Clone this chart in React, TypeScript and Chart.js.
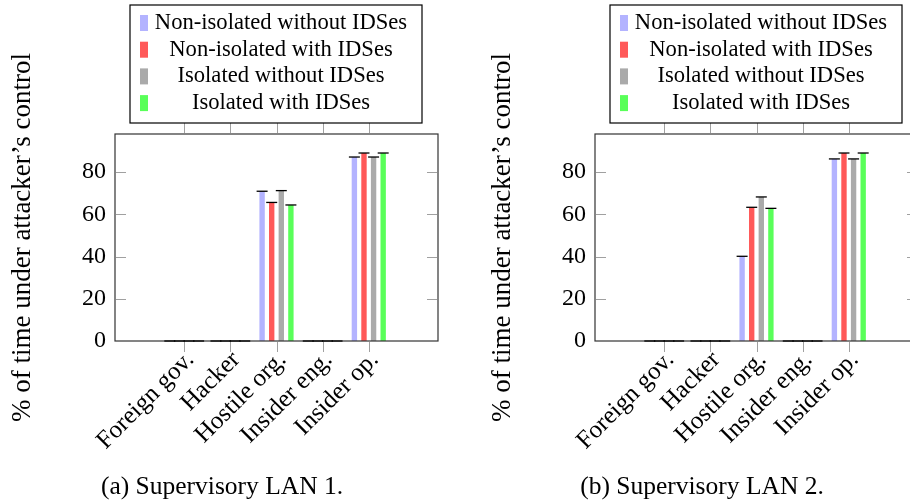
import React, { useEffect, useRef } from "react";
import { Chart, registerables } from "chart.js";

Chart.register(...registerables);

const CATEGORIES = ["Foreign gov.", "Hacker", "Hostile org.", "Insider eng.", "Insider op."];
const SERIES = [
  "Non-isolated without IDSes",
  "Non-isolated with IDSes",
  "Isolated without IDSes",
  "Isolated with IDSes",
];
const COLORS = ["#b3b3ff", "#ff5959", "#aaaaaa", "#59ff59"];
const Y_TICKS = [0, 20, 40, 60, 80];
const Y_TITLE = "% of time under attacker\u2019s control";

// Supervisory LAN 1
const LAN1_NONISO_NOIDS = [0, 0, 70.9, 0, 87.1];
const LAN1_NONISO_IDS = [0, 0, 65.6, 0, 89.0];
const LAN1_ISO_NOIDS = [0, 0, 71.2, 0, 87.1];
const LAN1_ISO_IDS = [0, 0, 64.4, 0, 89.0];

// Supervisory LAN 2
const LAN2_NONISO_NOIDS = [0, 0, 40.1, 0, 86.2];
const LAN2_NONISO_IDS = [0, 0, 63.3, 0, 89.0];
const LAN2_ISO_NOIDS = [0, 0, 68.2, 0, 86.2];
const LAN2_ISO_IDS = [0, 0, 62.8, 0, 89.0];

const CAPTION1 = "(a) Supervisory LAN 1.";
const CAPTION2 = "(b) Supervisory LAN 2.";

const FONT = "'Liberation Serif', 'Times New Roman', serif";

const decorPlugin = {
  id: "decor",
  afterDatasetsDraw(chart: any, _args: any, opts: any) {
    const ctx = chart.ctx;
    const { left, right, top, bottom } = chart.chartArea;
    const xs = chart.scales.x;
    const ys = chart.scales.y;
    ctx.save();
    // frame
    ctx.strokeStyle = "#333";
    ctx.lineWidth = 1.2;
    ctx.strokeRect(left, top, right - left, bottom - top);
    // ticks
    ctx.strokeStyle = "#a0a0a0";
    ctx.lineWidth = 1;
    ctx.beginPath();
    CATEGORIES.forEach((_c, i) => {
      const x = Math.round(xs.getPixelForValue(i)) + 0.5;
      ctx.moveTo(x, bottom + 1);
      ctx.lineTo(x, bottom + 11);
      ctx.moveTo(x, top - 1);
      ctx.lineTo(x, top - 11);
    });
    Y_TICKS.forEach((v) => {
      const y = Math.round(ys.getPixelForValue(v)) + 0.5;
      if (v === 0) return;
      ctx.moveTo(left + 1, y);
      ctx.lineTo(left + 11, y);
      ctx.moveTo(right - 1, y);
      ctx.lineTo(right - 11, y);
    });
    ctx.stroke();
    // error caps
    ctx.strokeStyle = "#000";
    ctx.lineWidth = 1.3;
    chart.data.datasets.forEach((_d: any, di: number) => {
      const meta = chart.getDatasetMeta(di);
      meta.data.forEach((el: any) => {
        ctx.beginPath();
        ctx.moveTo(el.x - 5.5, el.y);
        ctx.lineTo(el.x + 5.5, el.y);
        ctx.stroke();
      });
    });
    // x labels
    ctx.fillStyle = "#000";
    ctx.font = `25px ${FONT}`;
    ctx.textAlign = "right";
    ctx.textBaseline = "middle";
    CATEGORIES.forEach((c, i) => {
      const x = xs.getPixelForValue(i);
      ctx.save();
      ctx.translate(x + 6, bottom + 15);
      ctx.rotate(-Math.PI / 4);
      ctx.fillText(c, 0, 0);
      ctx.restore();
    });
    // y title
    ctx.save();
    ctx.font = `27px ${FONT}`;
    ctx.textAlign = "center";
    ctx.textBaseline = "middle";
    ctx.translate(23, (top + bottom) / 2);
    ctx.rotate(-Math.PI / 2);
    ctx.fillText(Y_TITLE, 0, 0);
    ctx.restore();
    // legend
    const lx = left + 15;
    const lw = 292;
    const ly = 5;
    const lh = 118;
    ctx.strokeStyle = "#000";
    ctx.lineWidth = 1.2;
    ctx.fillStyle = "#fff";
    ctx.fillRect(lx, ly, lw, lh);
    ctx.strokeRect(lx, ly, lw, lh);
    ctx.font = `22.6px ${FONT}`;
    ctx.textAlign = "center";
    ctx.textBaseline = "middle";
    chart.data.datasets.forEach((d: any, di: number) => {
      const cy = ly + 18 + di * 26.7;
      ctx.fillStyle = d.backgroundColor;
      ctx.fillRect(lx + 10, cy - 8, 8, 16);
      ctx.fillStyle = "#000";
      ctx.fillText(d.label, lx + 151, cy);
    });
    // caption
    ctx.font = `25.5px ${FONT}`;
    ctx.textAlign = "center";
    ctx.fillText(opts.caption, 222, 487);
    ctx.restore();
  },
};

function BarPanel(props: { series: number[][]; caption: string; left: number }) {
  const ref = useRef<HTMLCanvasElement | null>(null);
  useEffect(() => {
    if (!ref.current) return;
    Chart.defaults.font.family = FONT;
    const chart = new Chart(ref.current, {
      type: "bar",
      data: {
        datasets: props.series.map((vals, si) => ({
          label: SERIES[si],
          data: vals.map((v, i) => ({ x: i, y: v })),
          backgroundColor: COLORS[si],
          borderWidth: 0,
          categoryPercentage: 0.832,
          barPercentage: 0.56,
        })),
      },
      options: {
        responsive: false,
        animation: false,
        layout: { padding: { left: 0, right: 42, top: 134, bottom: 163 } },
        plugins: {
          legend: { display: false },
          tooltip: { enabled: false },
          decor: { caption: props.caption },
        } as any,
        scales: {
          x: {
            type: "linear",
            display: false,
            min: -0.8,
            max: 4.8,
            afterBuildTicks: (s: any) => {
              s.ticks = CATEGORIES.map((_c, i) => ({ value: i }));
            },
          },
          y: {
            type: "linear",
            min: 0,
            max: 98,
            afterBuildTicks: (s: any) => {
              s.ticks = Y_TICKS.map((v) => ({ value: v }));
            },
            afterFit: (s: any) => {
              s.width = 115;
            },
            grid: { display: false, drawTicks: false },
            border: { display: false },
            ticks: {
              padding: 9,
              color: "#000",
              font: { family: FONT, size: 24 },
            },
          },
        },
      },
      plugins: [decorPlugin],
    } as any);
    return () => chart.destroy();
  }, []);
  return (
    <canvas
      ref={ref}
      width={480}
      height={504}
      style={{ position: "absolute", left: props.left, top: 0, width: 480, height: 504, display: "block" }}
    />
  );
}

export default function App() {
  return (
    <div
      style={{
        position: "absolute",
        left: 0,
        top: 0,
        width: 910,
        height: 504,
        overflow: "hidden",
        background: "#fff",
      }}
    >
      <BarPanel
        left={0}
        caption={CAPTION1}
        series={[LAN1_NONISO_NOIDS, LAN1_NONISO_IDS, LAN1_ISO_NOIDS, LAN1_ISO_IDS]}
      />
      <BarPanel
        left={480}
        caption={CAPTION2}
        series={[LAN2_NONISO_NOIDS, LAN2_NONISO_IDS, LAN2_ISO_NOIDS, LAN2_ISO_IDS]}
      />
    </div>
  );
}
